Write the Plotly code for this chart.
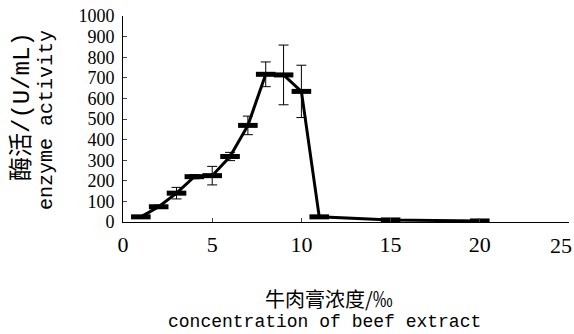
import plotly.graph_objects as go

conc = [1, 2, 3, 4, 5, 6, 7, 8, 9, 10, 11, 15, 20]
activity = [25, 74, 140, 220, 225, 318, 469, 717, 714, 634, 25, 10, 5]
err = [4, 8, 28, 10, 45, 20, 45, 60, 145, 127, 3, 2, 2]

x_ticks = [0, 5, 10, 15, 20, 25]
x_ticktext = ["0", "5", "10", "15", "20", ""]   # last label drawn below, nudged inside page
last_x_label = "25"
y_ticks = list(range(0, 1001, 100))

mono = "Liberation Mono, Noto Sans CJK SC, monospace"
serif = "Liberation Serif, DejaVu Serif, serif"

L, R, T, B = 123, 5, 16, 112
W, H = 574, 334
pw = W - L - R
ph = H - T - B

fig = go.Figure()
fig.add_trace(go.Scatter(
    x=conc, y=activity,
    mode="lines+markers",
    line=dict(color="black", width=3),
    marker=dict(symbol="line-ew", size=14, color="black",
                line=dict(color="black", width=5)),
    error_y=dict(type="data", array=err, visible=True,
                 color="black", thickness=1, width=5),
    showlegend=False,
))

annots = [
    dict(text="酶活/(U/mL)", px=22, py=107, textangle=-90,
         font=dict(family=mono, size=24, color="black")),
    dict(text="enzyme activity", px=46, py=120, textangle=-90,
         font=dict(family=mono, size=20, color="black")),
    dict(text="牛肉膏浓度/‰", px=329, py=298,
         font=dict(family="Noto Sans CJK SC, sans-serif", size=20, color="black")),
    dict(text="concentration of beef extract", px=324, py=322,
         font=dict(family=mono, size=18, color="black")),
]
ann_list = []
for a in annots:
    ann_list.append(dict(
        text=a["text"], x=(a["px"] - L) / pw, y=(H - B - a["py"]) / ph,
        xref="paper", yref="paper", xanchor="center", yanchor="middle",
        showarrow=False, textangle=a.get("textangle", 0), font=a["font"]))

# the last x tick label, anchored to its tick value through the x scale
ann_list.append(dict(
    text=last_x_label, x=x_ticks[-1], xref="x", y=(H - B - 245) / ph, yref="paper",
    xanchor="center", yanchor="middle", xshift=-8, showarrow=False,
    font=dict(family=serif, size=22, color="black")))

fig.update_layout(
    width=W, height=H,
    margin=dict(l=L, r=R, t=T, b=B),
    paper_bgcolor="white", plot_bgcolor="white",
    xaxis=dict(range=[0, 25], tickvals=x_ticks, ticktext=x_ticktext,
               ticks="inside", ticklen=4,
               showline=True, linecolor="black", linewidth=1,
               showgrid=False, zeroline=False,
               automargin=False, ticklabelstandoff=3,
               tickfont=dict(family=serif, size=22, color="black")),
    yaxis=dict(range=[0, 1000], tickvals=y_ticks, ticks="inside", ticklen=4,
               showline=True, linecolor="black", linewidth=1,
               showgrid=False, zeroline=False, automargin=False,
               ticklabelstandoff=4,
               tickfont=dict(family=serif, size=18, color="black")),
    annotations=ann_list,
)

fig.write_html("out.html")
